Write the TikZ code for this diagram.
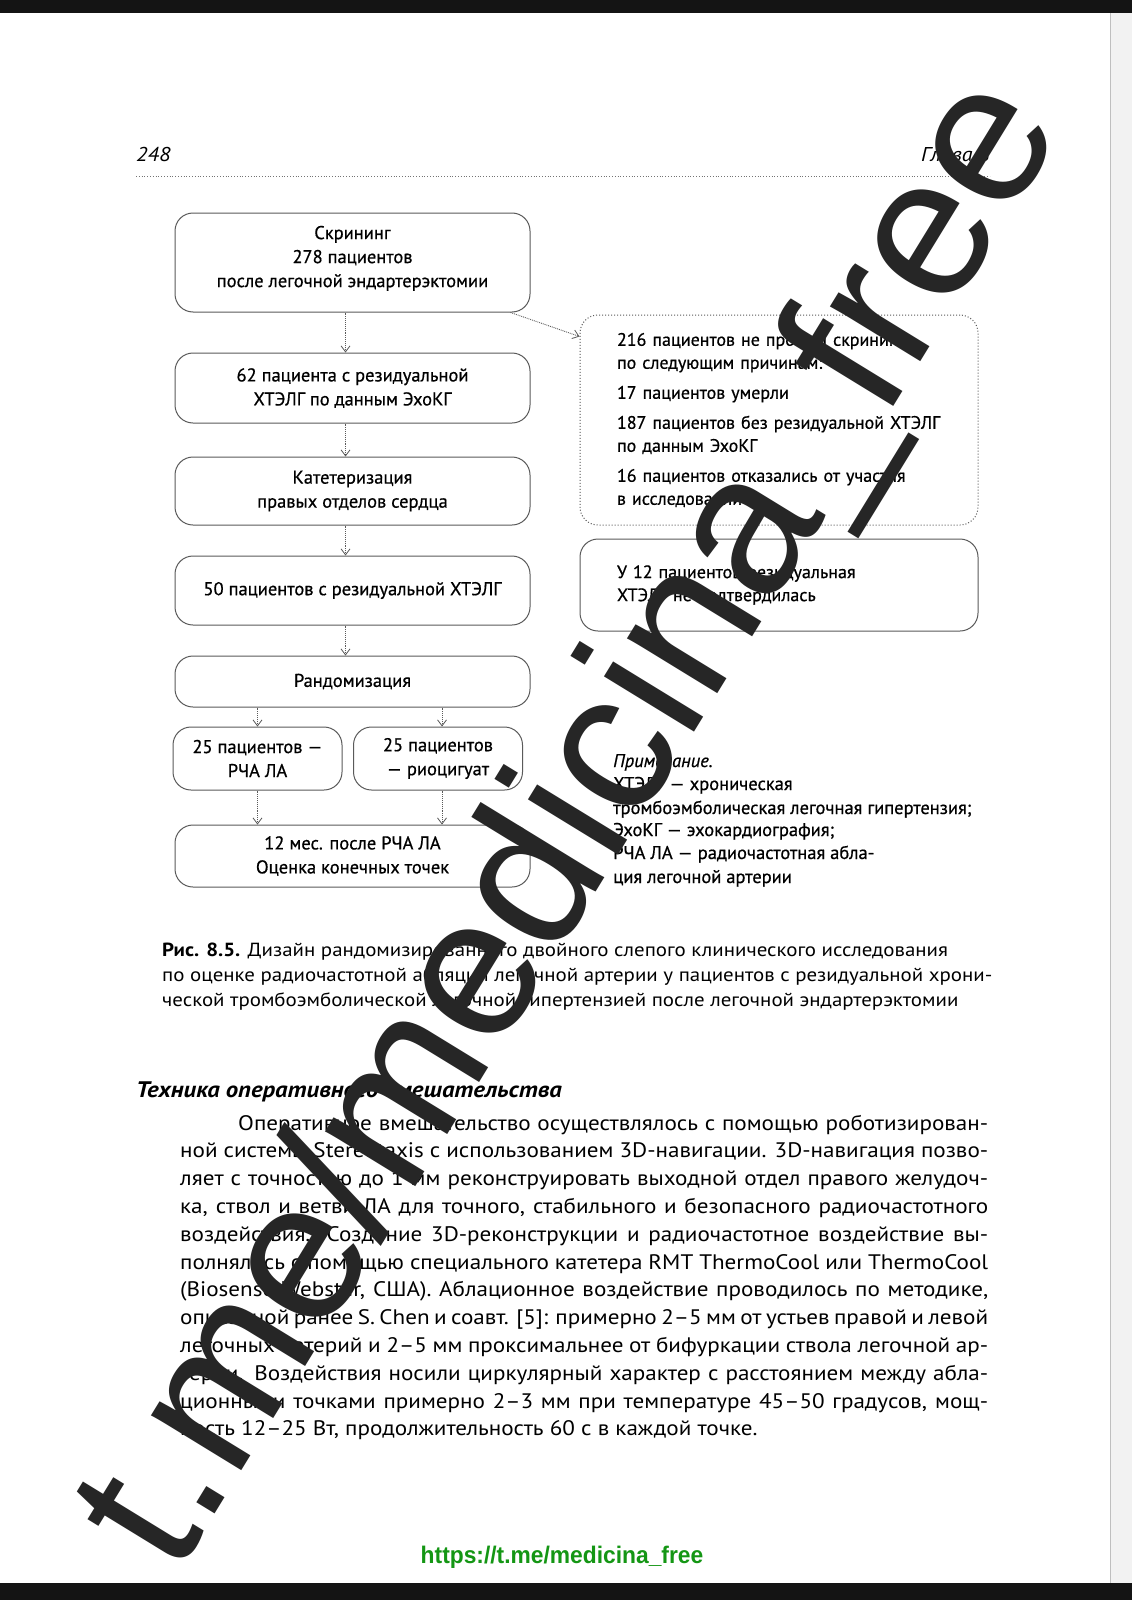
\documentclass[tikz,border=0pt]{standalone}
\usepackage{fontspec}
\setmainfont{PT Sans}
\newfontfamily\boxfont{PT Sans}[FakeBold=0.6]
\newfontfamily\widefont{PT Sans}[FakeStretch=1.1]
\newfontfamily\urlfont{Liberation Sans}[FakeStretch=0.95]
\newfontfamily\markfont{Liberation Sans}
\usepackage{tikz}
\usetikzlibrary{arrows.meta,positioning}

\definecolor{framegray}{RGB}{90,90,90}
\definecolor{urlgreen}{RGB}{20,150,20}
\newcommand{\boxtext}{\boxfont\fontsize{18.5}{24}\selectfont}
\newcommand{\sidetext}{\boxfont\fontsize{18}{23}\selectfont}
\newcommand{\bodytext}{\widefont\fontsize{21}{27.8}\selectfont}
\newcommand{\captext}{\widefont\fontsize{19}{24.5}\selectfont}

\begin{document}
\begin{tikzpicture}[
  x=1pt, y=-1pt,
  node distance=30pt,
  box/.style={rectangle, rounded corners=18pt, draw=framegray, line width=1pt, minimum width=355pt, align=center, inner sep=0pt, font=\boxtext},
  halfbox/.style={box, minimum width=169pt, minimum height=63pt},
  sidebox/.style={box, minimum width=398pt, text width=324pt, inner xsep=37pt, align=left, font=\sidetext},
  arrow/.style={densely dotted, line width=0.9pt, draw=framegray, -{Straight Barb[length=6pt, width=9pt, line width=0.8pt]}},
  line/.style={anchor=base west, inner sep=0pt},
  para/.style={line, font=\bodytext}
]

% Page
\useasboundingbox (0,0) rectangle (1132,1600);
\fill[white] (0,0) rectangle (1132,1600);
\fill[black!5] (1110,0) rectangle (1132,1600);
\draw[black!25, line width=1pt] (1110,0) -- (1110,1600);
\fill[black!92] (0,0) rectangle (1132,13);
\fill[black!92] (0,1583) rectangle (1132,1600);

% Running head
\node[line, font=\widefont\fontsize{20}{24}\selectfont\itshape] (pg) at (136,161) {248};
\node[anchor=base east, inner sep=0pt, font=\widefont\fontsize{20}{24}\selectfont\itshape] (chap) at (990,161) {Глава 8};
\draw[black!55, line width=0.8pt, dotted] (136,176) -- (990,176);

% Main column
\node[box, minimum height=99pt] (scr) at (352.5,262.5) {Скрининг\\278 пациентов\\после легочной эндартерэктомии\\[-12pt]};
\node[box, minimum height=70pt, below=40pt of scr] (echo) {62 пациента с резидуальной\\ХТЭЛГ по данным ЭхоКГ};
\node[box, minimum height=68pt, below=33pt of echo] (cath) {Катетеризация\\правых отделов сердца};
\node[box, minimum height=69pt, below=30pt of cath] (res) {50 пациентов с резидуальной ХТЭЛГ};
\node[box, minimum height=51pt, below=30pt of res] (rand) {Рандомизация};
\node[halfbox] (rfa) at (257.5,758.5) {25 пациентов —\\РЧА ЛА};
\node[halfbox] (rio) at (438,758.5) {25 пациентов\\— риоцигуат};
\node[box, minimum height=62pt] (fin) at (352.5,856) {12 мес. после РЧА ЛА\\Оценка конечных точек};

% Side column
\node[sidebox, dotted, minimum height=210pt] (excl) at (779,420) {216 пациентов не прошли скрининг\\по следующим причинам:\\[7pt]17 пациентов умерли\\[7pt]\mbox{187 пациентов без резидуальной ХТЭЛГ}\\по данным ЭхоКГ\\[7pt]16 пациентов отказались от участия\\в исследовании};
\node[sidebox, minimum height=92pt] (notc) at (779,585) {У 12 пациентов резидуальная\\ХТЭЛГ не подтвердилась};

% Arrows
\draw[arrow] ([xshift=-7pt]scr.south) -- ([xshift=-7pt]echo.north);
\draw[arrow] ([xshift=-7pt]echo.south) -- ([xshift=-7pt]cath.north);
\draw[arrow] ([xshift=-7pt]cath.south) -- ([xshift=-7pt]res.north);
\draw[arrow] ([xshift=-7pt]res.south) -- ([xshift=-7pt]rand.north);
\draw[arrow] (rand.south -| rfa.north) -- (rfa.north);
\draw[arrow] ([xshift=4pt]rand.south -| rio.north) -- ([xshift=4pt]rio.north);
\draw[arrow] (rfa.south) -- (rfa.south |- fin.north);
\draw[arrow] ([xshift=4pt]rio.south) -- ([xshift=4pt]rio.south |- fin.north);
\draw[arrow] ([xshift=-20pt]scr.south east) -- ([yshift=-22pt]excl.north west);

% Note
\node[line, font=\boxtext\itshape] (nt0) at (613,767) {Примечание.};
\node[line, font=\boxtext] (nt1) at (613,790) {ХТЭЛГ — хроническая};
\node[line, font=\boxtext] (nt2) at (613,814) {тромбоэмболическая легочная гипертензия;};
\node[line, font=\boxtext] (nt3) at (613,836) {ЭхоКГ — эхокардиография;};
\node[line, font=\boxtext] (nt4) at (613,859) {РЧА ЛА — радиочастотная абла-};
\node[line, font=\boxtext] (nt5) at (613,883) {ция легочной артерии};

% Caption
\node[line, font=\captext] (cap1) at (162,956) {\textbf{Рис. 8.5.} Дизайн рандомизированного двойного слепого клинического исследования};
\node[line, font=\captext] (cap2) at (162,981) {по оценке радиочастотной абляции легочной артерии у пациентов с резидуальной хрони-};
\node[line, font=\captext] (cap3) at (162,1006) {ческой тромбоэмболической легочной гипертензией после легочной эндартерэктомии};

% Section
\node[line, font=\widefont\fontsize{22.5}{26}\selectfont\bfseries\itshape] (sec) at (136,1097) {Техника оперативного вмешательства};
\node[para] (p1) at (238,1130) {\makebox[750pt][s]{Оперативное вмешательство осуществлялось с помощью роботизирован-}};
\node[para] (p2) at (180,1157.8) {\makebox[808pt][s]{ной системы Stereotaxis с использованием 3D-навигации. 3D-навигация позво-}};
\node[para] (p3) at (180,1185.6) {\makebox[808pt][s]{ляет с точностью до 1 мм реконструировать выходной отдел правого желудоч-}};
\node[para] (p4) at (180,1213.4) {\makebox[808pt][s]{ка, ствол и ветви ЛА для точного, стабильного и безопасного радиочастотного}};
\node[para] (p5) at (180,1241.2) {\makebox[808pt][s]{воздействия. Создание 3D-реконструкции и радиочастотное воздействие вы-}};
\node[para] (p6) at (180,1269) {\makebox[808pt][s]{полнялось с помощью специального катетера RMT ThermoCool или ThermoCool}};
\node[para] (p7) at (180,1296.8) {\makebox[808pt][s]{(Biosense Webster, США). Аблационное воздействие проводилось по методике,}};
\node[para] (p8) at (180,1324.6) {\makebox[808pt][s]{описанной ранее S. Chen и соавт. [5]: примерно 2–5 мм от устьев правой и левой}};
\node[para] (p9) at (180,1352.4) {\makebox[808pt][s]{легочных артерий и 2–5 мм проксимальнее от бифуркации ствола легочной ар-}};
\node[para] (p10) at (180,1380.2) {\makebox[808pt][s]{терии. Воздействия носили циркулярный характер с расстоянием между абла-}};
\node[para] (p11) at (180,1408) {\makebox[808pt][s]{ционными точками примерно 2–3 мм при температуре 45–50 градусов, мощ-}};
\node[para] (p12) at (180,1435.8) {ность 12–25 Вт, продолжительность 60 с в каждой точке.};

% Link
\node[text=urlgreen, font=\urlfont\fontsize{24}{28}\selectfont\bfseries] (url) at (562,1557) {https://t.me/medicina\_free};

% Watermark
\node[anchor=base east, rotate=58.5, inner sep=0pt, text=black!85, font=\markfont\fontsize{200}{200}\selectfont] (wm) at (1065,127) {t.me/medicina\_free};

\end{tikzpicture}
\end{document}
